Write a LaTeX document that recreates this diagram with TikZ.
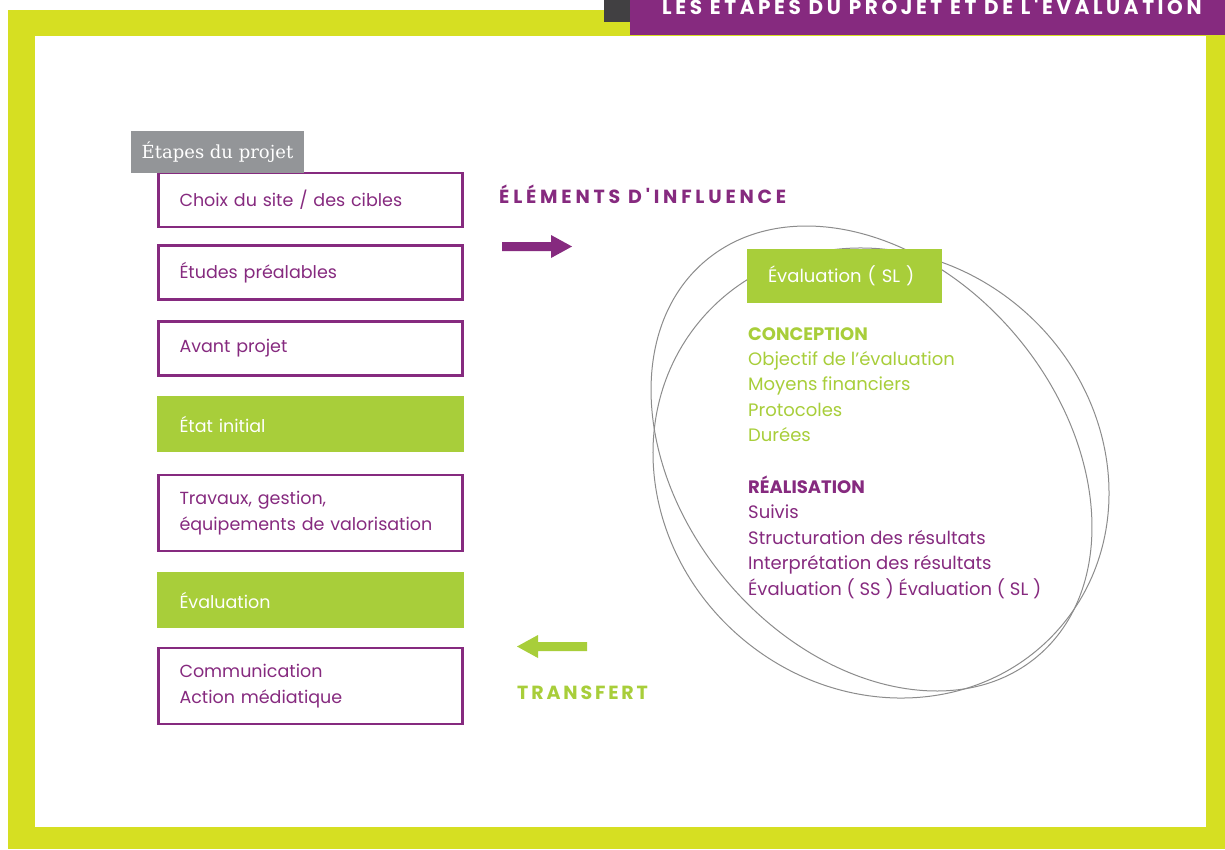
\documentclass[tikz,border=0pt]{standalone}
\usepackage{fontspec}
\setmainfont{Poppins}
\newfontfamily\trackfont[LetterSpace=20]{Poppins}
\newfontfamily\titlefont[LetterSpace=18]{Poppins}
\newfontfamily\transfont[LetterSpace=15]{Poppins}
\newfontfamily\slabfont{DejaVu Serif}
\definecolor{frameyel}{HTML}{D6DF22}
\definecolor{evalgreen}{HTML}{A8CE3A}
\definecolor{projpurple}{HTML}{862A7F}
\definecolor{labelgray}{HTML}{939598}
\definecolor{headdark}{HTML}{414042}
\definecolor{ringgray}{HTML}{8C8C8C}
\begin{document}
\begin{tikzpicture}[x=1pt,y=-1pt,
  stage/.style={draw=projpurple, line width=2.4pt, minimum width=304, minimum height=54,
    text width=262, inner xsep=21, align=left, text=projpurple,
    font=\fontsize{17.5}{25.4}\selectfont},
  stagefill/.style={stage, draw=evalgreen, fill=evalgreen, text=white},
  item/.style={anchor=base west, inner sep=0, font=\fontsize{18}{22}\selectfont},
  heading/.style={anchor=base west, inner sep=0, font=\trackfont\bfseries\fontsize{19}{20}\selectfont},
  ring/.style={draw=ringgray, line width=1pt}]
\useasboundingbox (0,0) rectangle (1225,849);
\fill[white] (0,0) rectangle (1225,849);
\fill[frameyel] (8,10) rectangle (1225,849);
\fill[white] (35,36) rectangle (1206,827);
\fill[headdark] (604,0) rectangle (630,22);
\fill[projpurple] (630,0) rectangle (1225,35);
\node[heading, text=white, font=\titlefont\bfseries\fontsize{20}{20}\selectfont] (title) at (662,14.5) {LES ÉTAPES DU PROJET ET DE L'ÉVALUATION};
\node[stage] (site) at (310.5,200) {Choix du site / des cibles};
\node[stage] (etudes) at (310.5,272.5) {Études préalables};
\node[stage] (avant) at (310.5,348.5) {Avant projet};
\node[stagefill] (initial) at (310.5,424) {État initial};
\node[stage, minimum height=76] (travaux) at (310.5,513) {Travaux, gestion,\\équipements de valorisation};
\node[stagefill] (evaluation) at (310.5,600) {Évaluation};
\node[stage, minimum height=76] (comm) at (310.5,686) {Communication\\Action médiatique};
\node[fill=labelgray, minimum width=173, minimum height=42, inner sep=0, text=white,
  font=\slabfont\fontsize{18}{20}\selectfont] (label) at (217.5,152) {Étapes du projet};
\node[heading, text=projpurple] (influence) at (499,203) {ÉLÉMENTS D'INFLUENCE};
\fill[projpurple] (502,242) -- (551,242) -- (551,235) -- (572,246.5) -- (551,258) -- (551,251) -- (502,251) -- cycle;
\fill[evalgreen] (587,642) -- (538,642) -- (538,635) -- (517,646.5) -- (538,658) -- (538,651) -- (587,651) -- cycle;
\node[heading, text=evalgreen, font=\transfont\bfseries\fontsize{19}{20}\selectfont] (transfert) at (517,699) {TRANSFERT};
\begin{scope}[shift={(871.5,458.5)}, rotate=-50.1]
\draw[ring] (0,0) ellipse [x radius=258.2, y radius=189.7];
\end{scope}
\begin{scope}[shift={(881,473)}, rotate=-40.8]
\draw[ring] (0,0) ellipse [x radius=236.5, y radius=216.1];
\end{scope}
\node[fill=evalgreen, minimum width=195, minimum height=54, text width=153, inner xsep=21,
  align=left, text=white, font=\fontsize{18}{22}\selectfont] (evalsl) at (844.5,276) {Évaluation ( SL )};
\node[item, text=evalgreen, font=\bfseries\fontsize{18}{22}\selectfont] (conception) at (748,340) {CONCEPTION};
\foreach \txt [count=\i] in {Objectif de l'évaluation, Moyens financiers, Protocoles, Durées}
  \node[item, text=evalgreen] (concept\i) at (748,340+25.4*\i) {\txt};
\node[item, text=projpurple, font=\bfseries\fontsize{18}{22}\selectfont] (realisation) at (748,493) {RÉALISATION};
\foreach \txt [count=\i] in {Suivis, Structuration des résultats, Interprétation des résultats, Évaluation ( SS ) Évaluation ( SL )}
  \node[item, text=projpurple] (realis\i) at (748,493+25.5*\i) {\txt};
\end{tikzpicture}
\end{document}
